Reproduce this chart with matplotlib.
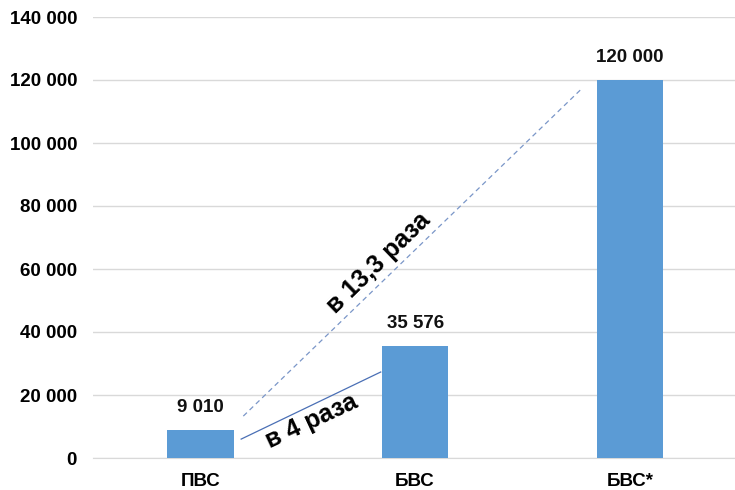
import numpy as np
import matplotlib.pyplot as plt

categories = ['ПВС', 'БВС', 'БВС*']
values = [9010, 35576, 120000]
value_labels = ['9 010', '35 576', '120 000']
y_ticks = [0, 20000, 40000, 60000, 80000, 100000, 120000, 140000]

plt.rcParams['font.family'] = ['Liberation Sans', 'DejaVu Sans']

fig = plt.figure(figsize=(7.35, 4.9), dpi=100)
ax = fig.add_axes([93 / 735, 32 / 490, 642 / 735, 441 / 490])

x = np.arange(len(categories))
ax.bar(x, values, width=0.31, color='#5b9bd5', zorder=3)

for xi, v, lab in zip(x, values, value_labels):
    ax.text(xi, v + 4300, lab, ha='center', va='bottom',
            fontsize=13.5, fontweight='bold', color='#111111')

# growth lines between bars
ax.plot([0.19, 0.84], [6000, 27300], color='#4a6fb5', lw=0.9, zorder=4)
ax.plot([0.20, 1.78], [13300, 117500], color='#7a96c8', lw=0.9,
        ls=(0, (4, 3)), zorder=4)

ax.text(0.83, 62000, 'в 13,3 раза', rotation=44, ha='center', va='center',
        fontsize=18, fontweight='bold', rotation_mode='anchor')
ax.text(0.52, 11500, 'в 4 раза', rotation=25, ha='center', va='center',
        fontsize=18, fontweight='bold', rotation_mode='anchor')

ax.set_xlim(-0.5, 2.49)
ax.set_ylim(0, 140000)
ax.set_yticks(y_ticks)
ax.set_yticklabels([f'{t:,}'.replace(',', ' ') for t in y_ticks])
ax.set_xticks(x)
ax.set_xticklabels(categories)
ax.tick_params(length=0, labelsize=13.5, pad=11.5)
ax.tick_params(axis='x', pad=11)
for lab in ax.get_xticklabels() + ax.get_yticklabels():
    lab.set_fontweight('bold')

ax.grid(axis='y', color='#d9d9d9', lw=1, zorder=0)
for side in ['top', 'right', 'left']:
    ax.spines[side].set_visible(False)
ax.spines['bottom'].set_color('#d9d9d9')

fig.savefig('out.png', dpi=100)
